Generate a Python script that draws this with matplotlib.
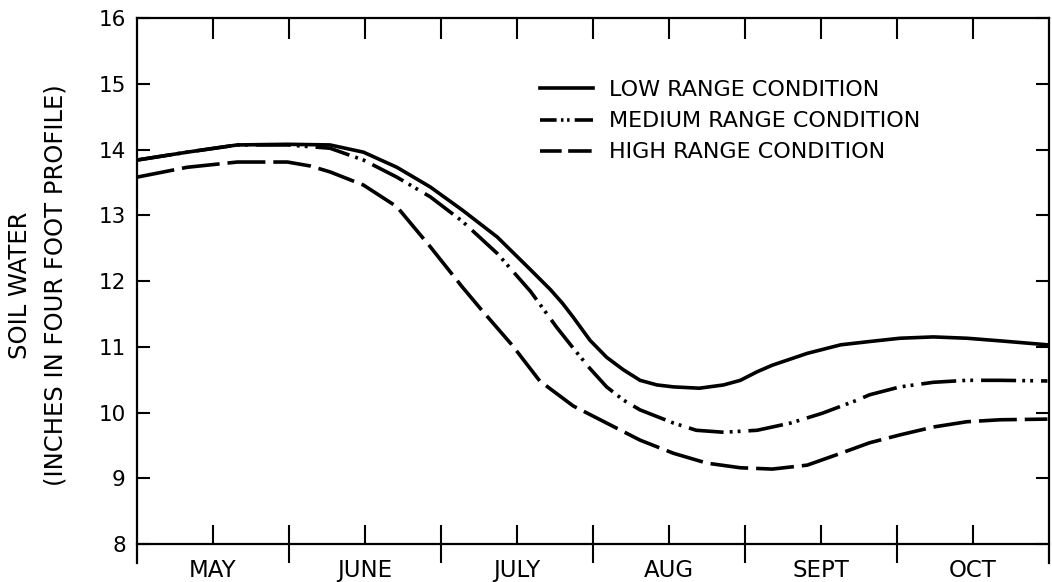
import matplotlib
matplotlib.use("Agg")
import matplotlib.pyplot as plt

plt.rcParams['font.family'] = ['DejaVu Sans']

# months from May 1 (0) to Oct 31 (6)
months = ['MAY', 'JUNE', 'JULY', 'AUG', 'SEPT', 'OCT']
month_edges = [0, 1, 2, 3, 4, 5, 6]
month_mids = [0.5, 1.5, 2.5, 3.5, 4.5, 5.5]

# soil water, inches in four foot profile
low_x = [0.0, 0.33, 0.66, 0.99, 1.27, 1.49, 1.71, 1.93, 2.14, 2.37, 2.59, 2.72,
         2.80, 2.87, 2.98, 3.09, 3.20, 3.31, 3.42, 3.53, 3.70, 3.86, 3.97, 4.08,
         4.18, 4.41, 4.63, 4.82, 5.02, 5.24, 5.46, 5.68, 5.99]
low_y = [13.84, 13.96, 14.07, 14.08, 14.07, 13.96, 13.73, 13.43, 13.08, 12.67,
         12.17, 11.87, 11.66, 11.45, 11.10, 10.84, 10.65, 10.49, 10.42, 10.39,
         10.37, 10.42, 10.49, 10.62, 10.72, 10.90, 11.03, 11.08, 11.13, 11.15,
         11.13, 11.09, 11.03]

med_x = [0.0, 0.33, 0.66, 0.99, 1.27, 1.49, 1.71, 1.93, 2.14, 2.37, 2.59, 2.65,
         2.76, 2.87, 2.98, 3.09, 3.20, 3.31, 3.53, 3.68, 3.86, 4.08, 4.30, 4.51,
         4.74, 4.82, 5.02, 5.24, 5.46, 5.68, 5.99]
med_y = [13.84, 13.96, 14.07, 14.07, 14.02, 13.84, 13.58, 13.28, 12.91, 12.42,
         11.84, 11.65, 11.30, 10.98, 10.67, 10.39, 10.19, 10.04, 9.84, 9.73,
         9.70, 9.73, 9.84, 9.99, 10.19, 10.27, 10.39, 10.46, 10.49, 10.49, 10.48]

high_x = [0.0, 0.33, 0.66, 0.99, 1.14, 1.27, 1.49, 1.71, 1.93, 2.14, 2.26, 2.47,
          2.65, 2.87, 3.09, 3.31, 3.53, 3.75, 3.97, 4.18, 4.41, 4.63, 4.82, 5.02,
          5.24, 5.46, 5.68, 5.99]
high_y = [13.58, 13.73, 13.81, 13.81, 13.75, 13.66, 13.46, 13.13, 12.52, 11.91,
          11.58, 11.02, 10.48, 10.10, 9.84, 9.58, 9.38, 9.23, 9.16, 9.14, 9.20,
          9.38, 9.54, 9.66, 9.78, 9.86, 9.89, 9.90]

labels = ['LOW RANGE CONDITION', 'MEDIUM RANGE CONDITION', 'HIGH RANGE CONDITION']

fig = plt.figure(figsize=(10.52, 5.82), dpi=100)
ax = fig.add_axes([0.1302, 0.0326, 0.8669, 0.9364])

lw = 2.6
ax.plot(low_x, low_y, color='black', lw=lw, linestyle='-', label=labels[0])
ax.plot(med_x, med_y, color='black', lw=lw,
        linestyle=(0, (9.7, 1.7, 0.8, 1.4, 0.8, 2.2)), label=labels[1])
ax.plot(high_x, high_y, color='black', lw=lw,
        linestyle=(0, (10.5, 2.2)), label=labels[2])

ax.set_xlim(0, 6)
ax.set_ylim(8 - 19 / 65.75, 16)

# x axis sits at 8, side spines run a little below it
ax.spines['bottom'].set_position(('data', 8))
for s in ax.spines.values():
    s.set_linewidth(1.6)

ax.set_yticks(range(8, 17))
ax.set_yticklabels(['8', '9', '10', '11', '12', '13', '14', '15', '16'])
ax.tick_params(axis='y', direction='in', length=9.5, width=1.5, right=True,
               labelsize=15.5, pad=8)

ax.set_xticks(month_edges[1:-1])
ax.set_xticklabels([])
ax.set_xticks(month_mids, minor=True)
ax.set_xticklabels(months, minor=True)
ax.tick_params(axis='x', which='major', direction='inout', length=27.5, width=1.5)
ax.tick_params(axis='x', which='minor', direction='in', length=13.7, width=1.5,
               labelsize=16.5, pad=10.5)

# inward ticks along the top edge
top = ax.secondary_xaxis('top')
top.set_xticks(month_edges[1:-1] + month_mids)
top.tick_params(direction='in', length=15, width=1.5, labeltop=False)
top.spines['top'].set_visible(False)

leg = ax.legend(loc='upper left', bbox_to_anchor=(0.4419, 0.886), frameon=False,
                fontsize=16, handlelength=2.4, handletextpad=0.7,
                labelspacing=0.5, borderpad=0, borderaxespad=0)
leg_lines = leg.get_lines()
leg_lines[1].set_dashes([4.6, 1.2, 0.7, 1.0, 0.7, 1.4, 6.0])
leg_lines[2].set_dashes([6.0, 1.8, 6.5, 2.0])

fig.text(37.5 / 1052, 1 - 285 / 582, 'SOIL WATER\n(INCHES IN FOUR FOOT PROFILE)',
         rotation=90, ha='center', va='center', multialignment='center',
         fontsize=17.5, linespacing=1.6)

fig.savefig('out.png', dpi=100)
